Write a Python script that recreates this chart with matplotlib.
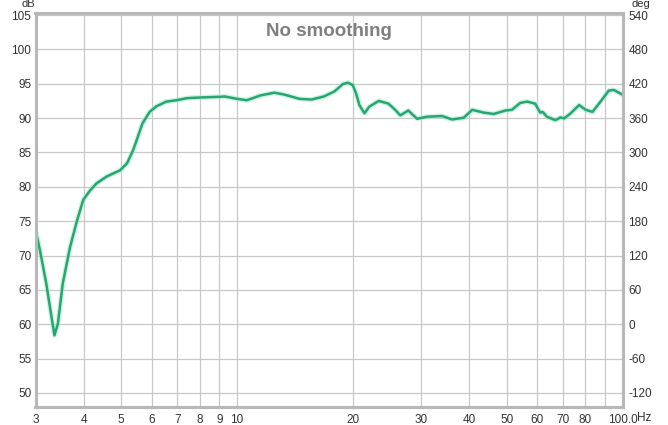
import numpy as np
import matplotlib
matplotlib.use('Agg')
import matplotlib.pyplot as plt
from matplotlib.ticker import FixedLocator, NullFormatter

# response (Hz, dB)
freq = [3.0, 3.08, 3.2, 3.3, 3.36, 3.43, 3.53, 3.69, 3.85, 3.99, 4.16, 4.32, 4.59,
        4.97, 5.18, 5.37, 5.49, 5.68, 5.93, 6.17, 6.55, 6.97, 7.41, 8.03, 9.05,
        9.27, 10.0, 10.6, 11.5, 12.5, 13.3, 14.5, 15.6, 16.8, 17.9, 18.8, 19.38,
        19.95, 20.35, 20.75, 21.4, 22.0, 23.3, 24.7, 25.7, 26.5, 27.8, 29.3, 31.1,
        34.0, 36.1, 38.7, 40.7, 43.6, 46.3, 49.6, 51.6, 54.2, 56.5, 59.3, 61.1,
        62.0, 63.6, 66.9, 69.0, 70.5, 73.3, 77.1, 80.2, 83.5, 87.6, 92.0, 94.8,
        100.0]
spl = [73.7, 70.8, 65.9, 61.1, 58.4, 60.1, 65.9, 71.3, 75.2, 78.1, 79.5, 80.5, 81.5,
       82.4, 83.4, 85.3, 86.8, 89.2, 90.9, 91.7, 92.4, 92.6, 92.9, 93.0, 93.1,
       93.15, 92.8, 92.6, 93.3, 93.7, 93.4, 92.8, 92.7, 93.15, 93.9, 94.95, 95.15,
       94.8, 93.6, 91.9, 90.7, 91.65, 92.5, 92.1, 91.2, 90.4, 91.1, 89.9, 90.2,
       90.3, 89.8, 90.05, 91.2, 90.8, 90.6, 91.1, 91.2, 92.2, 92.4, 92.1, 90.8,
       90.9, 90.2, 89.7, 90.1, 89.95, 90.7, 91.9, 91.2, 90.9, 92.4, 94.0, 94.1,
       93.4]

x_ticks = [3, 4, 5, 6, 7, 8, 9, 10, 20, 30, 40, 50, 60, 70, 80, 100]
x_labels = ['3', '4', '5', '6', '7', '8', '9', '10', '20', '30', '40', '50',
            '60', '70', '80', '100.0']
x_grid = [4, 5, 6, 7, 8, 9, 10, 20, 30, 40, 50, 60, 70, 80, 90]
db_ticks = list(range(50, 106, 5))
deg_ticks = list(range(-120, 541, 60))

plt.rcParams['font.family'] = ['Liberation Sans', 'DejaVu Sans']
plt.rcParams['axes.unicode_minus'] = False
txt = '#333333'

fig = plt.figure(figsize=(6.68, 4.25), dpi=100)
ax = fig.add_axes([35.5 / 668, 18.3 / 425, (622.7 - 35.5) / 668, (406.7 - 13.3) / 425])

ax.set_xscale('log')
ax.set_xlim(3, 100)
ax.set_ylim(48, 105.25)

for g in x_grid:
    ax.axvline(g, color='#c8c8c8', lw=0.9, zorder=0)
for d in db_ticks:
    ax.axhline(d, color='#c8c8c8', lw=0.9, zorder=0)

ax.plot(freq, spl, color='#aaeccb', lw=3.6, alpha=0.6, solid_capstyle='round',
        solid_joinstyle='round', zorder=2)
ax.plot(freq, spl, color='#27a673', lw=1.8, solid_capstyle='round',
        solid_joinstyle='round', zorder=3)

ax.xaxis.set_major_locator(FixedLocator(x_ticks))
ax.set_xticklabels(x_labels)
ax.xaxis.set_minor_locator(FixedLocator([]))
ax.xaxis.set_minor_formatter(NullFormatter())
ax.set_yticks(db_ticks)
ax.tick_params(axis='both', length=0, labelsize=8.5, colors=txt)
ax.tick_params(axis='x', pad=5)
ax.tick_params(axis='y', pad=3)

ax2 = ax.twinx()
ax2.set_ylim((48 - 60) * 12, (105.25 - 60) * 12)
ax2.set_yticks(deg_ticks)
ax2.tick_params(axis='y', length=0, labelsize=8.5, colors=txt, pad=4)

for a in (ax, ax2):
    for s in a.spines.values():
        s.set_color('#b8b8b8')
        s.set_linewidth(2.2)

fig.text(28 / 668, 1 - 4 / 425, 'dB', ha='center', va='center', fontsize=8, color=txt)
fig.text(641 / 668, 1 - 4 / 425, 'deg', ha='center', va='center', fontsize=8, color=txt)
fig.text(637 / 668, 1 - 418 / 425, 'Hz', ha='left', va='center', fontsize=8.5, color=txt)
ax.text(0.5, 0.975, 'No smoothing', transform=ax.transAxes, ha='center', va='top',
        fontsize=13.5, fontweight='bold', color='#7f7f7f')

fig.savefig('out.png', dpi=100)
